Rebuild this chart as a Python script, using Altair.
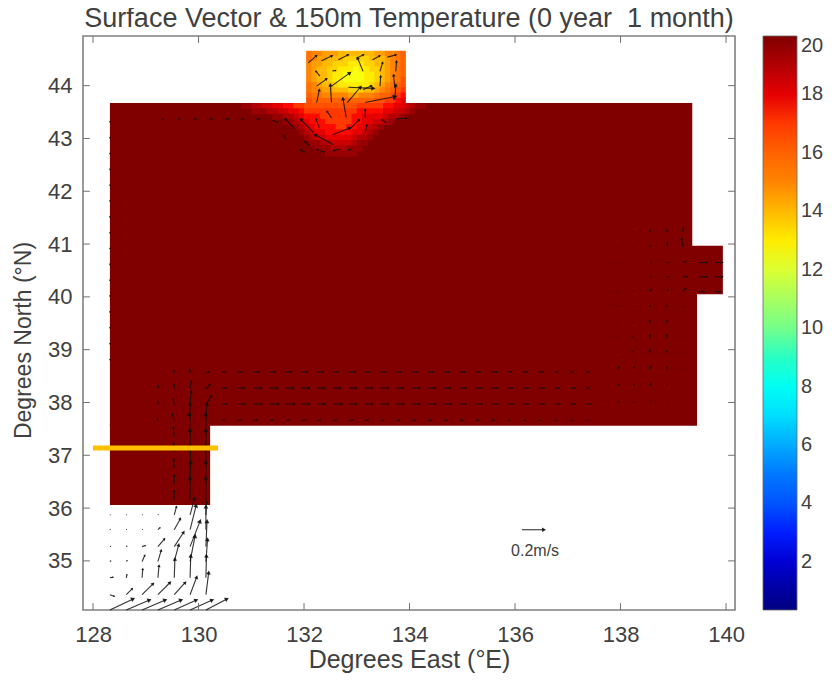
import math
import altair as alt
import pandas as pd

FONT = "Liberation Sans"
INK = "#404040"

# ---- axes
x_ticks = [128, 130, 132, 134, 136, 138, 140]
y_ticks = [35, 36, 37, 38, 39, 40, 41, 42, 43, 44]
cbar_ticks = [2, 4, 6, 8, 10, 12, 14, 16, 18, 20]
x_domain = [127.81, 140.17]
y_domain = [34.07, 44.94]
t_domain = [0.35, 20]
jet = ["#000080", "#0000ff", "#0080ff", "#00ffff", "#80ff80", "#ffff00", "#ff8000", "#ff0000", "#800000"]

# ---- sea outline at 20 degrees (west, east, south, north)
sea_w = [128.32, 139.35, 139.35, 128.32]
sea_e = [139.36, 139.45, 139.94, 130.22]
sea_s = [37.56, 37.56, 40.05, 36.06]
sea_n = [43.67, 40.07, 40.97, 37.6]
sea_t = [20, 20, 20, 20]

# ---- temperature in the northern bay, north to south, west to east
bay_west = 132.04
bay_north = 44.66
bay_rows = [
    [15.5, 15, 15, 14.5, 14.5, 14.5, 14, 14, 14, 14, 14, 14, 14, 14.5, 14.5, 15, 15, 15.5, 16],
    [15.5, 15, 14.5, 14.5, 14, 14, 14, 13.5, 13.5, 13.5, 13.5, 13.5, 14, 14, 14, 14.5, 15, 15.5, 16],
    [15, 14.5, 14.5, 14, 14, 13.5, 13.5, 13.5, 13, 13, 13, 13.5, 13.5, 14, 14, 14.5, 15, 15.5, 16],
    [15, 14.5, 14, 14, 13.5, 13.5, 13, 13, 13, 12.5, 13, 13, 13.5, 13.5, 14, 14.5, 15, 15.5, 16],
    [15, 14.5, 14, 14, 13.5, 13, 13, 12.5, 12.5, 12.5, 12.5, 13, 13, 13.5, 14, 14.5, 15, 15.5, 16],
    [15, 14.5, 14, 14, 13.5, 13, 13, 12.5, 12.5, 12.5, 12.5, 13, 13, 13.5, 14, 14.5, 15, 15.5, 16.5],
    [15.5, 15, 14.5, 14, 14, 13.5, 13, 13, 13, 13, 13, 13, 13.5, 14, 14.5, 15, 15.5, 16, 16.5],
    [15.5, 15, 15, 14.5, 14.5, 14, 14, 14, 13.5, 13.5, 13.5, 14, 14, 14.5, 15, 15.5, 16, 16.5, 17],
    [16, 15.5, 15.5, 15, 15, 15, 15, 15, 14.5, 14.5, 15, 15, 15, 15.5, 16, 16, 16.5, 17, 17.5],
    [16.5, 16, 16, 16, 16, 16, 16, 16, 16, 16, 16, 16, 16, 16.5, 16.5, 17, 17, 17.5, 18],
]

# ---- warm plume just south of the bay
plume_west = 130.6
plume_north = 43.67
plume_rows = [
    [20, 20, 19.5, 19.5, 19, 19, 18.5, 18.5, 18, 18, 17.5, 17.5, 17, 17, 16.5, 16.5, 16.5, 16.5, 16.5, 16.5, 16.5, 16.5, 16.5, 16.5, 17, 17, 17, 17, 17, 17.5, 17.5, 18, 18, 18.5, 19, 19.5, 19.5, 20, 20, 20],
    [20, 20, 20, 20, 19.5, 19.5, 19.5, 19, 19, 18.5, 18.5, 18, 18, 17.5, 17, 17, 17, 17, 17, 17, 17, 17, 17, 17, 17.5, 17.5, 17.5, 17.5, 17.5, 18, 18, 18.5, 18.5, 19, 19.5, 20, 20, 20, 20, 20],
    [20, 20, 20, 20, 20, 20, 20, 20, 19.5, 19.5, 19, 19, 18.5, 18, 17.5, 17.5, 17.5, 17, 17, 17, 17, 17, 17, 17.5, 17.5, 18, 18, 18, 18, 18.5, 19, 19, 19.5, 20, 20, 20, 20, 20, 20, 20],
    [20, 20, 20, 20, 20, 20, 20, 20, 20, 20, 19.5, 19.5, 19, 18.5, 18, 17.5, 17.5, 17.5, 17, 17, 17, 17, 17, 17.5, 17.5, 18, 18, 18.5, 18.5, 19, 19.5, 20, 20, 20, 20, 20, 20, 20, 20, 20],
    [20, 20, 20, 20, 20, 20, 20, 20, 20, 20, 20, 20, 19.5, 19, 18.5, 18, 17.5, 17.5, 17.5, 17.5, 17, 17, 17.5, 17.5, 18, 18, 18.5, 19, 19.5, 20, 20, 20, 20, 20, 20, 20, 20, 20, 20, 20],
    [20, 20, 20, 20, 20, 20, 20, 20, 20, 20, 20, 20, 20, 19.5, 19, 18.5, 18, 18, 17.5, 17.5, 17.5, 17.5, 17.5, 18, 18, 18.5, 19, 19.5, 20, 20, 20, 20, 20, 20, 20, 20, 20, 20, 20, 20],
    [20, 20, 20, 20, 20, 20, 20, 20, 20, 20, 20, 20, 20, 20, 19.5, 19, 18.5, 18.5, 18, 18, 18, 18, 18, 18.5, 19, 19, 19.5, 20, 20, 20, 20, 20, 20, 20, 20, 20, 20, 20, 20, 20],
    [20, 20, 20, 20, 20, 20, 20, 20, 20, 20, 20, 20, 20, 20, 20, 19.5, 19.5, 19, 19, 18.5, 18.5, 18.5, 18.5, 19, 19.5, 19.5, 20, 20, 20, 20, 20, 20, 20, 20, 20, 20, 20, 20, 20, 20],
    [20, 20, 20, 20, 20, 20, 20, 20, 20, 20, 20, 20, 20, 20, 20, 20, 19.5, 19.5, 19.5, 19, 19, 19, 19.5, 19.5, 19.5, 20, 20, 20, 20, 20, 20, 20, 20, 20, 20, 20, 20, 20, 20, 20],
    [20, 20, 20, 20, 20, 20, 20, 20, 20, 20, 20, 20, 20, 20, 20, 20, 20, 20, 19.5, 19.5, 19.5, 19.5, 19.5, 19.5, 20, 20, 20, 20, 20, 20, 20, 20, 20, 20, 20, 20, 20, 20, 20, 20],
]

# ---- currents near the bay (lon, lat, u, v in m/s)
north_lon = [132.08, 132.33, 132.65, 132.99, 133.30, 133.58, 133.12, 133.44, 133.74, 132.30, 132.54, 132.24, 132.52, 133.44, 133.72, 132.24, 132.52, 132.82, 132.84, 133.12, 133.72, 133.16, 132.80, 132.52, 132.29, 133.16, 132.18, 133.57, 133.74, 132.54, 132.87, 133.16, 131.83, 131.51, 132.56, 132.11, 131.67, 132.40, 132.02, 132.71, 132.90, 129.3, 129.6, 129.9, 130.2, 130.5, 130.8, 131.1]
north_lat = [44.43, 44.47, 44.49, 44.52, 44.49, 44.54, 44.27, 44.27, 44.27, 44.18, 44.28, 43.99, 43.99, 43.99, 43.95, 43.68, 43.68, 43.68, 43.97, 43.92, 43.73, 43.68, 43.40, 43.39, 43.20, 43.39, 43.11, 43.29, 43.37, 43.07, 43.18, 43.10, 43.18, 43.30, 42.88, 42.86, 42.98, 42.74, 42.74, 42.80, 42.80, 43.37, 43.37, 43.37, 43.37, 43.37, 43.37, 43.37]
north_u = [.075, .096, .09, .066, .066, .078, -.05, .024, .006, -.036, .03, .09, .166, .006, -.01, .024, -.01, .12, .226, .075, .01, .27, -.03, -.04, -.03, 0, -.114, -.045, .096, .157, .084, .015, -.09, -.045, -.166, -.045, -.03, -.075, -.045, -.075, -.03, .02, .025, .03, .03, .035, .03, .03]
north_v = [.066, .045, .045, .03, .036, .02, .12, .08, .09, .045, .003, .066, .12, .09, .12, .114, .16, .14, -.01, .036, .135, .054, .17, .06, .08, .075, .12, .03, .006, .06, .084, .075, .09, .018, .09, .04, .036, .024, .024, -.012, -.01, 0, 0, 0, 0, 0, 0, -.002]

# ---- currents along the south-west strait, one row per latitude, seven columns
strait_lon = [128.32, 128.63, 128.93, 129.23, 129.54, 129.84, 130.14]
strait_lat = [34.07, 34.36, 34.68, 34.99, 35.27, 35.59, 35.87, 36.16, 36.46, 36.76, 37.06, 37.36, 37.66, 37.96, 38.26, 38.56]
strait_u = [
    [.21, .21, .21, .21, .2, .2, .19],
    [.04, .055, .1, .11, .1, .06, .025],
    [.03, .006, .006, .01, .006, .006, .005],
    [.01, .01, .025, .03, .04, .045, .015],
    [.008, .008, .03, .06, .085, .09, .01],
    [.005, .005, .005, .02, .055, .055, 0],
    [.004, .004, .004, .004, .02, .04, .005],
    [0, 0, 0, 0, 0, 0, 0],
    [0, 0, 0, 0, 0, .005, 0],
    [0, 0, 0, 0, -.005, .005, 0],
    [0, 0, 0, 0, -.005, 0, 0],
    [0, 0, 0, 0, -.01, -.005, 0],
    [0, 0, 0, -.005, -.02, 0, .01],
    [0, 0, 0, 0, -.01, .01, .05],
    [0, 0, 0, .005, 0, .01, .04],
    [0, 0, 0, 0, 0, 0, .03],
]
strait_v = [
    [.1, .09, .09, .09, .09, .09, .1],
    [-.015, .055, .1, .11, .11, .16, .2],
    [.006, .03, .08, .11, .17, .2, .2],
    [.005, .01, .055, .1, .15, .23, .2],
    [.004, .006, .01, .07, .13, .23, .23],
    [.004, .005, .005, .02, .1, .22, .21],
    [.003, .003, .003, .004, .075, .15, .12],
    [0, 0, 0, 0, .08, .2, .2],
    [0, 0, 0, 0, .08, .2, .2],
    [0, 0, 0, 0, .08, .2, .2],
    [0, 0, 0, 0, .08, .2, .2],
    [0, 0, 0, 0, .08, .2, .2],
    [0, 0, 0, .02, .06, .15, .15],
    [0, 0, 0, .03, .05, .12, .08],
    [0, 0, 0, .03, .04, .07, .04],
    [0, 0, 0, 0, .02, .03, .01],
]

# ---- eastward band of currents along the south coast
band_lon = [130.45, 130.75, 131.05, 131.35, 131.65, 131.95, 132.25, 132.55, 132.85, 133.15, 133.45, 133.75, 134.05, 134.35, 134.65, 134.95, 135.25, 135.55, 135.85, 136.15, 136.45, 136.75, 137.05, 137.35]
band_lat = [38.58, 38.27, 37.97, 37.66]
band_u = [
    [.03, .04, .05, .05, .055, .05, .05, .05, .055, .05, .05, .045, .05, .05, .05, .05, .045, .05, .04, .04, .04, .03, .03, .02],
    [.04, .06, .07, .07, .07, .07, .07, .07, .07, .07, .07, .065, .07, .07, .06, .06, .06, .06, .05, .05, .05, .04, .04, .03],
    [.04, .06, .07, .08, .08, .07, .07, .08, .07, .07, .07, .07, .07, .07, .07, .06, .06, .06, .06, .05, .05, .05, .04, .04],
    [.02, .03, .03, .03, .035, .04, .03, .03, .035, .035, .03, .03, .03, .03, .03, .03, .03, .03, .025, .025, .02, .02, .02, .02],
]

# ---- currents near the eastern strait, one row per latitude, five columns
east_lon = [137.95, 138.24, 138.56, 138.88, 139.18]
east_lat = [41.23, 40.95, 40.65, 40.38, 40.10, 39.81, 39.51, 39.22, 38.94, 38.63, 38.32, 38.00]
east_u = [
    [0, 0, 0, 0, .005],
    [0, 0, .005, .005, -.01],
    [.005, .005, .01, .02, .03],
    [.005, .005, .01, .02, .04],
    [.005, .005, .01, .01, .03],
    [0, 0, 0, 0, 0],
    [0, 0, 0, 0, 0],
    [0, 0, 0, 0, 0],
    [0, 0, 0, 0, 0],
    [.01, .01, .01, 0, 0],
    [.015, .01, .01, .005, 0],
    [.01, .01, .005, 0, 0],
]
east_v = [
    [0, .005, .015, .02, .04],
    [.005, .005, .01, .04, .07],
    [0, 0, 0, 0, .01],
    [0, 0, 0, 0, 0],
    [.005, .01, .02, .02, .03],
    [.01, .01, .015, .015, .005],
    [.01, .01, .02, .02, .005],
    [.01, .015, .03, .03, .005],
    [.01, .02, .03, .02, .005],
    [.02, .02, .03, .02, .005],
    [.01, .015, .02, .01, 0],
    [.005, .005, .005, .005, 0],
]

# ---- outflow channel
outflow_lon = [139.49, 139.79, 139.49, 139.79, 139.49, 139.79]
outflow_lat = [40.65, 40.65, 40.38, 40.38, 40.1, 40.1]
outflow_u = [.07, .07, .07, .07, .05, .05]
outflow_v = [0, 0, 0, 0, 0, 0]

# ---- faint vectors on the west coast
west_lat = [43.3, 43.0, 42.7, 42.4, 42.1, 41.8, 41.5, 41.2, 40.9, 40.6, 40.3, 40.0, 39.7, 39.4, 39.1, 38.8]
west_v = [.012, .012, .012, .012, .012, .012, .012, .012, .012, .012, .012, .012, .012, .012, .012, .012]
west_lon = 128.32

# ---- reference arrow and section line
key_lon = [136.13]
key_lat = [35.59]
key_u = [.2]
key_v = [0]
key_label = ["0.2m/s"]
key_label_lon = [136.38]
key_label_lat = [35.19]
section_lon = [128.0]
section_lon2 = [130.37]
section_lat = [37.14]

DEG_PER_MS = 2.1  # vector length on the map
SEAM = 0.012      # neighbouring cells overlap slightly so no hairlines show

# ---- tables
cells = []
for w, e, s, n, t in zip(sea_w, sea_e, sea_s, sea_n, sea_t):
    cells.append(dict(w=w, e=e, s=s, n=n, T=t))
for r, row in enumerate(bay_rows):
    for c, t in enumerate(row):
        cells.append(dict(w=bay_west + c * 0.0995, e=bay_west + (c + 1) * 0.0995 + (SEAM if c < 18 else 0),
                          n=bay_north - r * 0.099, s=bay_north - (r + 1) * 0.099 - SEAM, T=t))
for r, row in enumerate(plume_rows):
    for c, t in enumerate(row):
        if t < 20:
            cells.append(dict(w=plume_west + c * 0.1, e=plume_west + (c + 1) * 0.1 + SEAM,
                              n=plume_north - r * 0.1, s=plume_north - (r + 1) * 0.1 - SEAM, T=t))
cells = pd.DataFrame(cells)

arrows = []
def add(lon, lat, u, v):
    if u or v:
        arrows.append(dict(lon=lon, lat=lat, lon2=lon + u * DEG_PER_MS, lat2=lat + v * DEG_PER_MS,
                           speed=math.hypot(u, v), heading=math.degrees(math.atan2(u, v))))

for a in zip(north_lon, north_lat, north_u, north_v):
    add(*a)
for lat, us, vs in zip(strait_lat, strait_u, strait_v):
    for lon, u, v in zip(strait_lon, us, vs):
        add(lon, lat, u, v)
for lat, us in zip(band_lat, band_u):
    for lon, u in zip(band_lon, us):
        add(lon, lat, u, 0.001)
for lat, us, vs in zip(east_lat, east_u, east_v):
    for lon, u, v in zip(east_lon, us, vs):
        add(lon, lat, u, v)
for a in zip(outflow_lon, outflow_lat, outflow_u, outflow_v):
    add(*a)
for lat, v in zip(west_lat, west_v):
    add(west_lon, lat, 0, v)
for a in zip(key_lon, key_lat, key_u, key_v):
    add(*a)
arrows = pd.DataFrame(arrows)

frame_ticks = []
for t in x_ticks:
    frame_ticks.append(dict(a=t, a2=t, b=y_domain[0], b2=y_domain[0] + 0.13))
    frame_ticks.append(dict(a=t, a2=t, b=y_domain[1], b2=y_domain[1] - 0.13))
for t in y_ticks:
    frame_ticks.append(dict(a=x_domain[0], a2=x_domain[0] + 0.13, b=t, b2=t))
    frame_ticks.append(dict(a=x_domain[1], a2=x_domain[1] - 0.13, b=t, b2=t))
frame_ticks = pd.DataFrame(frame_ticks)

# ---- scales
xs = alt.Scale(domain=x_domain, nice=False, zero=False)
ys = alt.Scale(domain=y_domain, nice=False, zero=False)
ts = alt.Scale(domain=t_domain, range=jet, nice=False, zero=False)

x_axis = alt.Axis(values=x_ticks, title="Degrees East (°E)", ticks=False, domain=False, grid=False,
                  labelFontSize=22, labelFont=FONT, labelColor=INK, labelPadding=14,
                  titleFontSize=25, titleFont=FONT, titleColor=INK, titleFontWeight="normal", titlePadding=2)
y_axis = alt.Axis(values=y_ticks, title="Degrees North (°N)", ticks=False, domain=False, grid=False,
                  labelFontSize=22, labelFont=FONT, labelColor=INK, labelPadding=11,
                  titleFontSize=23, titleFont=FONT, titleColor=INK, titleFontWeight="normal",
                  titleX=-48, titleY=304)

field = alt.Chart(cells).mark_rect().encode(
    x=alt.X("w:Q", scale=xs, axis=x_axis),
    x2="e:Q",
    y=alt.Y("s:Q", scale=ys, axis=y_axis),
    y2="n:Q",
    color=alt.Color("T:Q", scale=ts, title=None, legend=alt.Legend(
        orient="none", legendX=680, legendY=0, direction="vertical", type="gradient",
        gradientLength=574, gradientThickness=34, gradientStrokeColor="#666666", gradientStrokeWidth=0.8,
        values=cbar_ticks, labelFontSize=20, labelFont=FONT, labelColor=INK, labelOffset=4,
        labelOverlap=False, labelBaseline="middle")),
)

shafts = alt.Chart(arrows).mark_rule(color="#111111", strokeWidth=1.1, opacity=0.85).encode(
    x=alt.X("lon:Q", scale=xs, axis=x_axis), x2="lon2:Q",
    y=alt.Y("lat:Q", scale=ys, axis=y_axis), y2="lat2:Q",
)
heads = alt.Chart(arrows).mark_point(shape="triangle-up", filled=True, color="#111111", opacity=0.9).encode(
    x=alt.X("lon2:Q", scale=xs, axis=x_axis),
    y=alt.Y("lat2:Q", scale=ys, axis=y_axis),
    angle=alt.Angle("heading:Q", scale=None),
    size=alt.Size("speed:Q", scale=alt.Scale(domain=[0, 0.25], range=[0, 26]), legend=None),
)
section = alt.Chart(pd.DataFrame(dict(lon=section_lon, lon2=section_lon2, lat=section_lat))).mark_rule(
    color="#FFC000", strokeWidth=5).encode(
    x=alt.X("lon:Q", scale=xs, axis=x_axis), x2="lon2:Q",
    y=alt.Y("lat:Q", scale=ys, axis=y_axis),
)
key_text = alt.Chart(pd.DataFrame(dict(lon=key_label_lon, lat=key_label_lat, label=key_label))).mark_text(
    font=FONT, fontSize=16, color=INK, align="center", baseline="middle").encode(
    x=alt.X("lon:Q", scale=xs, axis=x_axis),
    y=alt.Y("lat:Q", scale=ys, axis=y_axis),
    text="label:N",
)
tick_marks = alt.Chart(frame_ticks).mark_rule(color="#707070", strokeWidth=1).encode(
    x=alt.X("a:Q", scale=xs, axis=x_axis), x2="a2:Q",
    y=alt.Y("b:Q", scale=ys, axis=y_axis), y2="b2:Q",
)

chart = alt.layer(field, shafts, heads, section, key_text, tick_marks).properties(
    width=652, height=574,
    autosize=alt.AutoSizeParams(type="none"),
    padding={"left": 75, "top": 28, "right": 89, "bottom": 68},
    title=alt.TitleParams("Surface Vector & 150m Temperature (0 year \u00a01 month)", font=FONT, fontSize=27,
                          fontWeight="normal", color=INK, offset=3, anchor="middle"),
).configure_view(stroke="#808080", strokeWidth=1.6)

chart.save("out.html", embed_options={"renderer": "svg", "actions": False})
